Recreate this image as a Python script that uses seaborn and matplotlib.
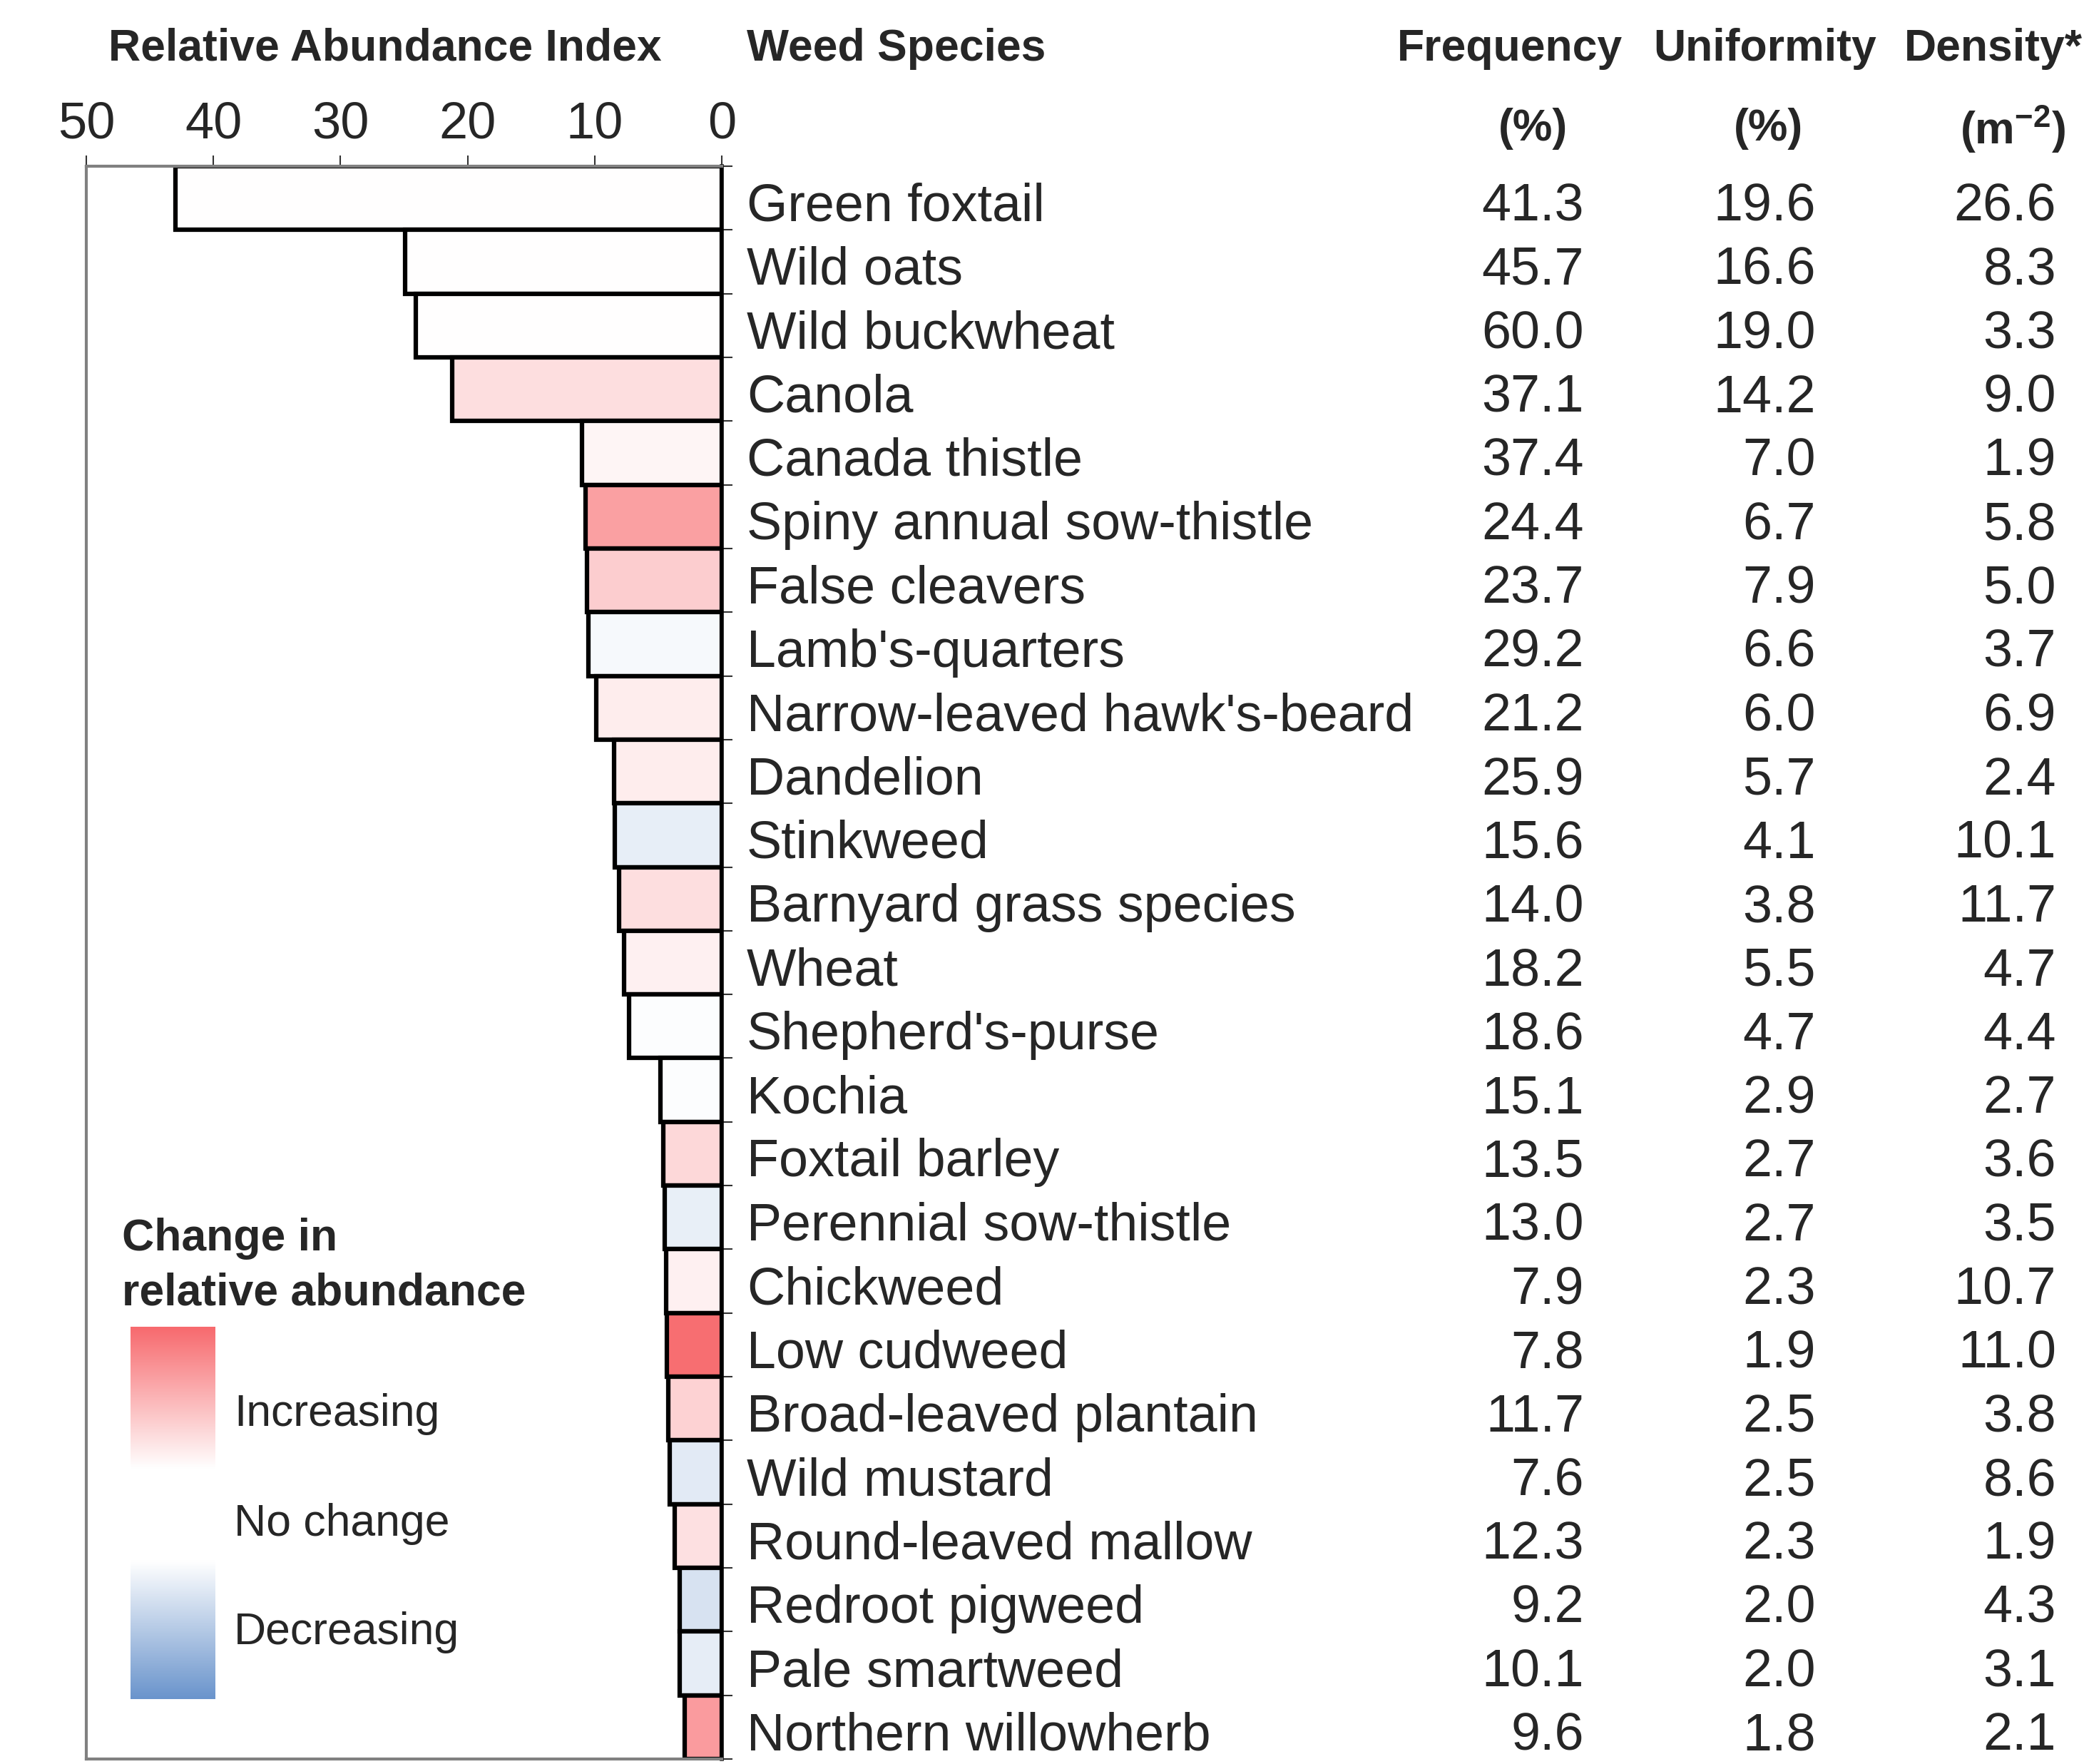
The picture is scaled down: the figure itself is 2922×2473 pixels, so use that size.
import numpy as np
import pandas as pd
import matplotlib
matplotlib.use("Agg")
import matplotlib.pyplot as plt
import matplotlib.transforms as mtransforms
from matplotlib.colors import LinearSegmentedColormap, Normalize
import seaborn as sns

species = ["Green foxtail", "Wild oats", "Wild buckwheat", "Canola", "Canada thistle",
           "Spiny annual sow-thistle", "False cleavers", "Lamb's-quarters",
           "Narrow-leaved hawk's-beard", "Dandelion", "Stinkweed", "Barnyard grass species",
           "Wheat", "Shepherd's-purse", "Kochia", "Foxtail barley", "Perennial sow-thistle",
           "Chickweed", "Low cudweed", "Broad-leaved plantain", "Wild mustard",
           "Round-leaved mallow", "Redroot pigweed", "Pale smartweed", "Northern willowherb"]
abundance = [43.0, 24.9, 24.1, 21.2, 11.0, 10.7, 10.6, 10.5, 9.9, 8.5, 8.4, 8.1, 7.7, 7.3,
             4.8, 4.6, 4.5, 4.4, 4.3, 4.2, 4.1, 3.7, 3.3, 3.3, 2.9]
change = [0.0, 0.0, 0.0, 0.22, 0.07, 0.64, 0.33, -0.06, 0.12, 0.12, -0.16, 0.22, 0.1, -0.02,
          -0.02, 0.26, -0.15, 0.1, 0.97, 0.3, -0.19, 0.21, -0.27, -0.17, 0.67]
frequency = ["41.3", "45.7", "60.0", "37.1", "37.4", "24.4", "23.7", "29.2", "21.2", "25.9",
             "15.6", "14.0", "18.2", "18.6", "15.1", "13.5", "13.0", "7.9", "7.8", "11.7",
             "7.6", "12.3", "9.2", "10.1", "9.6"]
uniformity = ["19.6", "16.6", "19.0", "14.2", "7.0", "6.7", "7.9", "6.6", "6.0", "5.7",
              "4.1", "3.8", "5.5", "4.7", "2.9", "2.7", "2.7", "2.3", "1.9", "2.5",
              "2.5", "2.3", "2.0", "2.0", "1.8"]
density = ["26.6", "8.3", "3.3", "9.0", "1.9", "5.8", "5.0", "3.7", "6.9", "2.4",
           "10.1", "11.7", "4.7", "4.4", "2.7", "3.6", "3.5", "10.7", "11.0", "3.8",
           "8.6", "1.9", "4.3", "3.1", "2.1"]
xticks = [50, 40, 30, 20, 10, 0]
legend_labels = ["Increasing", "No change", "Decreasing"]

sns.set_theme(style="white")
plt.rcParams['font.family'] = ['Liberation Sans', 'DejaVu Sans']
plt.rcParams['mathtext.fontset'] = 'custom'
plt.rcParams['mathtext.rm'] = 'Liberation Sans'
plt.rcParams['mathtext.bf'] = 'Liberation Sans:bold'

W, H = 2922, 2473
fig = plt.figure(figsize=(W / 100, H / 100), dpi=100)
fig.patch.set_facecolor('white')

BLUE = "#6A94CC"
RED = "#F76A6E"
bar_cmap = LinearSegmentedColormap.from_list("bwr_c", [BLUE, "#FFFFFF", RED])
norm = Normalize(-1, 1)
colors = [bar_cmap(norm(c)) for c in change]

ax_l, ax_r, ax_t, ax_b = 121, 1012, 233, 2466
ax = fig.add_axes([ax_l / W, 1 - ax_b / H, (ax_r - ax_l) / W, (ax_b - ax_t) / H])

df = pd.DataFrame({"species": species, "abundance": abundance})
sns.barplot(data=df, x="abundance", y="species", hue="species", palette=colors,
            legend=False, orient="h", width=1.0, edgecolor="black", linewidth=4.5,
            ax=ax, saturation=1)
ax.set_xlim(50, 0)
ax.set_ylim(len(species) - 0.5, -0.5)
ax.set_xlabel("")
ax.set_ylabel("")
ax.set_facecolor("white")

ax.xaxis.tick_top()
ax.set_xticks(xticks)
ax.set_xticklabels([str(t) for t in xticks], fontsize=52)
ax.tick_params(axis='x', which='major', top=True, bottom=False, length=11, width=1.5,
               color='#333333', pad=7, direction='out')
ax.yaxis.tick_right()
ax.set_yticks(np.arange(-0.5, len(species) + 0.5, 1.0))
ax.set_yticklabels([])
ax.tick_params(axis='y', which='major', right=True, left=False, length=11, width=1.5,
               color='#333333', direction='out')

for side in ["left", "top", "bottom"]:
    ax.spines[side].set_color('#808080')
    ax.spines[side].set_linewidth(3)
    ax.spines[side].set_visible(True)
ax.spines["right"].set_color('black')
ax.spines["right"].set_linewidth(4)
ax.spines["right"].set_visible(True)

tr = mtransforms.blended_transform_factory(fig.transFigure, ax.transData)
dy = 0.14
for i, sp in enumerate(species):
    ax.text(1047 / W, i + dy, sp, transform=tr, ha='left', va='center', fontsize=53, clip_on=False)
    ax.text(2221 / W, i + dy, frequency[i], transform=tr, ha='right', va='center', fontsize=53, clip_on=False)
    ax.text(2546 / W, i + dy, uniformity[i], transform=tr, ha='right', va='center', fontsize=53, clip_on=False)
    ax.text(2883 / W, i + dy, density[i], transform=tr, ha='right', va='center', fontsize=53, clip_on=False)

hdr = dict(fontsize=45, fontweight='bold', va='center')
fig.text(540 / W, 1 - 68 / H, "Relative Abundance Index", ha='center', **hdr)
fig.text(1047 / W, 1 - 68 / H, "Weed Species", ha='left', **hdr)
fig.text(2117 / W, 1 - 68 / H, "Frequency", ha='center', **hdr)
fig.text(2475 / W, 1 - 68 / H, "Uniformity", ha='center', **hdr)
fig.text(2670 / W, 1 - 68 / H, "Density*", ha='left', **hdr)
fig.text(2149 / W, 1 - 181 / H, "(%)", ha='center', **hdr)
fig.text(2480 / W, 1 - 181 / H, "(%)", ha='center', **hdr)
fig.text(2822 / W, 1 - 181 / H, r"(m$^{\mathbf{-2}}$)", ha='center', **hdr)

# legend
fig.text(171 / W, 1 - 1737 / H, "Change in", ha='left', **hdr)
fig.text(171 / W, 1 - 1813 / H, "relative abundance", ha='left', **hdr)
leg_cmap = LinearSegmentedColormap.from_list(
    "leg", [(0.0, BLUE), (0.37, "#FFFFFF"), (0.62, "#FFFFFF"), (1.0, RED)])
cax = fig.add_axes([183 / W, 1 - 2382 / H, (302 - 183) / W, (2382 - 1860) / H])
grad = np.linspace(0, 1, 256).reshape(-1, 1)
cax.imshow(grad, aspect='auto', cmap=leg_cmap, origin='lower', vmin=0, vmax=1)
cax.set_axis_off()
for lab, yy in zip(legend_labels, [1982, 2136, 2289]):
    fig.text(328 / W, 1 - yy / H, lab, ha='left', va='center', fontsize=45)

fig.savefig("out.png", dpi=100, facecolor='white')
